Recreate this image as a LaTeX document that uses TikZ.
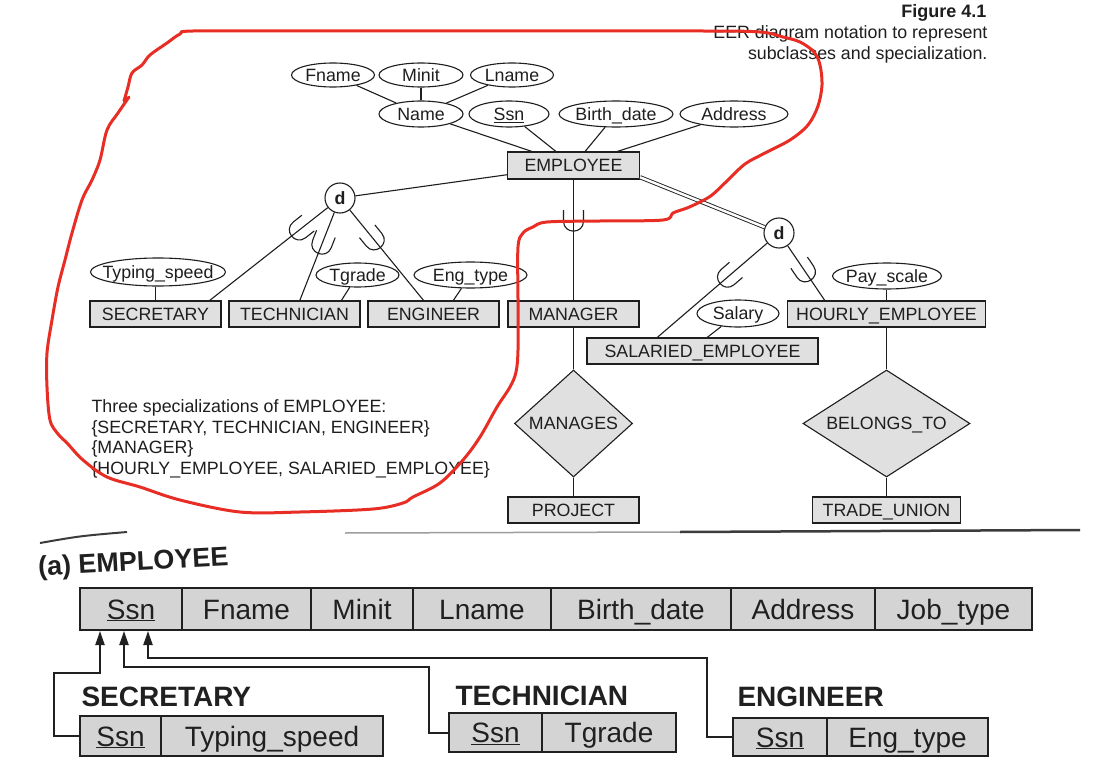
\documentclass[tikz,border=0pt]{standalone}
\usepackage{fontspec}
\setmainfont{Liberation Sans}
\usetikzlibrary{shapes.geometric,calc,arrows.meta,decorations.markings}
\definecolor{ink}{RGB}{30,30,30}
\definecolor{boxfill}{RGB}{224,224,224}
\definecolor{redpen}{RGB}{232,46,36}
\definecolor{photoink}{RGB}{32,32,32}
\definecolor{photofill}{RGB}{212,212,212}
\definecolor{pageedge}{RGB}{60,60,60}
\newcommand\eersize{\fontsize{17.8}{20}\selectfont}
\newcommand\photosize{\fontsize{28}{32}\selectfont}
\newcommand\ztxt[1]{\makebox[0pt]{#1}}
\begin{document}
\begin{tikzpicture}[x=1pt,y=-1pt,line width=1.1pt,
  ent/.style={draw=ink,fill=boxfill,rectangle,inner sep=0pt,text=ink,font=\eersize,text height=12.8pt,text depth=0pt},
  attr/.style={draw=ink,fill=white,ellipse,inner sep=0pt,text=ink,font=\eersize,text height=12.8pt,text depth=0pt},
  rel/.style={draw=ink,fill=boxfill,diamond,inner sep=0pt,text=ink,font=\eersize,text height=12.8pt,text depth=0pt},
  dcirc/.style={draw=ink,fill=white,circle,minimum size=30pt,inner sep=0pt,text=ink,font=\eersize\bfseries,text height=12.9pt,text depth=0pt},
  conn/.style={draw=ink},
  subset/.style={postaction={decorate},decoration={markings,mark=at position #1 with {\draw[ink,line width=1.1pt] (-11,10) -- (0,10) .. controls (13.3,10) and (13.3,-10) .. (0,-10) -- (-11,-10);}}},
  notetxt/.style={text=ink,font=\eersize,inner sep=0pt,anchor=base west},
  captxt/.style={text=ink,font=\eersize,inner sep=0pt,anchor=base east},
  cell/.style={draw=photoink,fill=photofill,rectangle,inner sep=0pt,line width=2pt,text=photoink,font=\photosize,text height=20pt,text depth=0pt},
  rlabel/.style={text=photoink,font=\fontsize{28}{32}\selectfont\bfseries,inner sep=0pt,anchor=base west},
  fk/.style={draw=photoink,line width=2pt,-{Triangle[length=14pt,width=9pt]}}
]
\useasboundingbox (0,0) rectangle (1112,773);
\fill[white] (0,0) rectangle (1112,773);

% caption
\node[captxt,font=\fontsize{18}{20}\selectfont\bfseries] (fig) at (987,18) {Figure 4.1};
\node[captxt] (cap1) at (988,39) {EER diagram notation to represent};
\node[captxt] (cap2) at (988,60) {subclasses and specialization.};

% attributes of EMPLOYEE
\node[attr,minimum width=83,minimum height=24] (fname) at (333,75) {\ztxt{Fname}};
\node[attr,minimum width=84,minimum height=24] (minit) at (421,75) {\ztxt{Minit}};
\node[attr,minimum width=83,minimum height=24] (lname) at (512,75) {\ztxt{Lname}};
\node[attr,minimum width=84,minimum height=26] (name) at (421,114) {\ztxt{Name}};
\node[attr,minimum width=80,minimum height=26] (ssn) at (509,114) {\ztxt{\underline{Ssn}}};
\node[attr,minimum width=114,minimum height=26] (bdate) at (616,114) {\ztxt{Birth\_date}};
\node[attr,minimum width=108,minimum height=26] (addr) at (734,114) {\ztxt{Address}};
\node[ent,minimum width=132,minimum height=27] (emp) at (573.5,165.5) {\ztxt{EMPLOYEE}};

\draw[conn] (fname) -- (name);
\draw[conn] (minit) -- (name);
\draw[conn] (lname) -- (name);
\draw[conn] (name) -- (emp);
\draw[conn] (ssn) -- (emp);
\draw[conn] (bdate) -- (emp);
\draw[conn] (addr) -- (emp);

% specialization circles
\node[dcirc] (d1) at (340,198) {\ztxt{d}};
\node[dcirc] (d2) at (779,233) {\ztxt{d}};

% subclasses
\node[ent,minimum width=131,minimum height=26] (sec) at (155.5,314) {\ztxt{SECRETARY}};
\node[ent,minimum width=131,minimum height=26] (tech) at (294.5,314) {\ztxt{TECHNICIAN}};
\node[ent,minimum width=131,minimum height=26] (eng) at (433.5,314) {\ztxt{ENGINEER}};
\node[ent,minimum width=131,minimum height=26] (mgr) at (573.5,314) {\ztxt{MANAGER}};
\node[ent,minimum width=198,minimum height=26] (hourly) at (886.5,314) {\ztxt{HOURLY\_EMPLOYEE}};
\node[ent,minimum width=231,minimum height=26] (sal) at (702.5,351) {\ztxt{SALARIED\_EMPLOYEE}};

% local attributes
\node[attr,minimum width=135,minimum height=28] (typ) at (158,272) {\ztxt{Typing\_speed}};
\node[attr,minimum width=83,minimum height=24] (tgrade) at (357.5,275) {\ztxt{Tgrade}};
\node[attr,minimum width=113,minimum height=26] (engtype) at (470.5,275) {\ztxt{Eng\_type}};
\node[attr,minimum width=109,minimum height=26] (payscale) at (887,276) {\ztxt{Pay\_scale}};
\node[attr,minimum width=82,minimum height=27] (salary) at (738,313.5) {\ztxt{Salary}};

\draw[conn] (sec.north |- typ.south) -- (sec.north);
\draw[conn] (tgrade) -- ($(tech.north)!0.71!(tech.north east)$);
\draw[conn] (engtype) -- ($(eng.north)!0.3!(eng.north east)$);
\draw[conn] (payscale.south -| hourly.north) -- (hourly.north);
\draw[conn] (salary) -- ($(sal.north)!0.04!(sal.north east)$);

% specialization links
\draw[conn] (emp) -- (d1);
\draw[draw=ink,line width=0.9pt,double=white,double distance=2.4pt] (emp.350) -- (d2);
\draw[conn,subset=0.24] (d1) -- ($(sec.north)!0.82!(sec.north east)$);
\draw[conn,subset=0.36] (d1) -- ($(tech.north)!0.08!(tech.north east)$);
\draw[conn,subset=0.33] (d1) -- ($(eng.north)!0.15!(eng.north west)$);
\draw[conn,subset=0.344] (emp.south) -- (emp.south |- mgr.north);
\draw[conn,subset=0.36] (d2) -- ($(sal.north)!0.39!(sal.north west)$);
\draw[conn,subset=0.475] (d2) -- ($(hourly.north)!0.62!(hourly.north west)$);

% relationships
\node[rel,minimum width=118,minimum height=107] (manages) at (573.5,423.5) {\ztxt{MANAGES}};
\node[rel,minimum width=167,minimum height=107] (belongs) at (886.5,423.5) {\ztxt{BELONGS\_TO}};
\node[ent,minimum width=131,minimum height=26] (project) at (573.5,510) {\ztxt{PROJECT}};
\node[ent,minimum width=148,minimum height=26] (trade) at (886.5,510) {\ztxt{TRADE\_UNION}};
\draw[conn] (mgr.south) -- (mgr.south |- manages.north);
\draw[conn] (manages.south) -- (manages.south |- project.north);
\draw[conn] (hourly.south) -- (hourly.south |- belongs.north);
\draw[conn] (belongs.south) -- (belongs.south |- trade.north);

% note
\node[notetxt] (note1) at (91,412) {Three specializations of EMPLOYEE:};
\node[notetxt] (note2) at (91,433) {\{SECRETARY, TECHNICIAN, ENGINEER\}};
\node[notetxt] (note3) at (91,453.5) {\{MANAGER\}};
\node[notetxt] (note4) at (91,474) {\{HOURLY\_EMPLOYEE, SALARIED\_EMPLOYEE\}};

% ---------------- photographed relational schema ----------------
\draw[pageedge!50,line width=1.5pt] (345,533) -- (680,532);
\draw[pageedge,line width=2.5pt] (680,532) -- (1080,530);
\draw[pageedge,line width=2pt] (40,543) .. controls (80,536) .. (127,532);

\node[rlabel,font=\fontsize{27}{30}\selectfont\bfseries,rotate=3] (atitle) at (38,576) {(a) EMPLOYEE};

\node[cell,minimum width=102,minimum height=42] (essn) at (131,609) {\ztxt{\underline{Ssn}}};
\node[cell,minimum width=129,minimum height=42] (efn) at (246.5,609) {\ztxt{Fname}};
\node[cell,minimum width=102,minimum height=42] (emi) at (362,609) {\ztxt{Minit}};
\node[cell,minimum width=138,minimum height=42] (eln) at (482,609) {\ztxt{Lname}};
\node[cell,minimum width=180,minimum height=42] (ebd) at (641,609) {\ztxt{Birth\_date}};
\node[cell,minimum width=144,minimum height=42] (ead) at (803,609) {\ztxt{Address}};
\node[cell,minimum width=157,minimum height=42] (ejt) at (953.5,609) {\ztxt{Job\_type}};

\node[rlabel] (lsec) at (81,706) {SECRETARY};
\node[rlabel] (ltech) at (455,705) {TECHNICIAN};
\node[rlabel] (leng) at (737,706) {ENGINEER};

\node[cell,minimum width=81,minimum height=40] (sssn) at (120.5,736) {\ztxt{\underline{Ssn}}};
\node[cell,minimum width=222,minimum height=40] (styp) at (272,736) {\ztxt{Typing\_speed}};
\node[cell,minimum width=93,minimum height=39] (tssn) at (495.5,732.5) {\ztxt{\underline{Ssn}}};
\node[cell,minimum width=134,minimum height=39] (ttg) at (609,732.5) {\ztxt{Tgrade}};
\node[cell,minimum width=94,minimum height=38] (gssn) at (780,737) {\ztxt{\underline{Ssn}}};
\node[cell,minimum width=161,minimum height=38] (get) at (907.5,737) {\ztxt{Eng\_type}};

\draw[fk] (sssn.west) -- ++(-25,0) |- ($(essn.south)+(-31,42)$) -- ($(essn.south)+(-31,0)$);
\draw[fk] (tssn.west) -- ++(-19,0) |- ($(essn.south)+(-7,36)$) -- ($(essn.south)+(-7,0)$);
\draw[fk] (gssn.west) -- ++(-25,0) |- ($(essn.south)+(17,27)$) -- ($(essn.south)+(17,0)$);

% ---------------- red hand-drawn outline ----------------
\draw[redpen,line width=3pt,line cap=round,line join=round] plot[smooth,tension=0.55] coordinates {
 (129,97) (118,113) (107,130) (100,160) (92,180) (82,200) (72,233) (65,260) (58,287) (52,320)
 (47,353) (47,387) (50,420) (58,434) (67,443) (83,460) (107,477) (140,487) (180,500) (240,512)
 (300,512) (373,509) (403,503) (413,497) (440,483) (463,460) (480,437) (497,407) (510,387)
 (516,372) (518,350) (518,300) (518,247) (523,233) (533,227) (547,222) (600,221) (663,220)
 (673,213) (687,208) (700,202) (712,195) (728,180) (745,164) (765,153) (790,140) (808,125)
 (818,106) (822,85) (820,65) (814,52) (800,42) (783,37) (760,32) (703,31) (500,31) (300,31)
 (193,31) (180,34) (167,43) (150,55) (142,65) (132,73) (128,87) (124,101)};
\end{tikzpicture}
\end{document}
